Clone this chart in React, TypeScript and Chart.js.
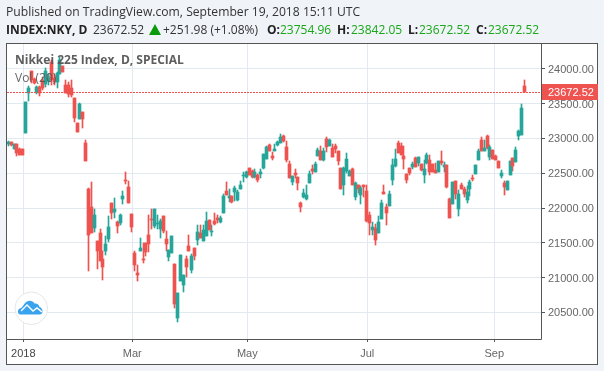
import React, { useEffect, useRef } from "react";
import { Chart, registerables } from "chart.js";

Chart.register(...registerables);

const opens = [22914,22942,22851,22918,22847,22847,23081,23646,23962,23857,23665,23737,23838,23780,23830,24091,23871,23814,23929,24043,23766,23766,23718,23584,23220,23278,23373,22928,
22273,22014,21717,21526,21641,21267,21382,21554,22071,21947,21799,21784,22129,22402,22301,21914,21353,21061,21382,21267,21497,21612,21842,21741,21770,21698,21885,21554,21296,21353,21195,20420,20951,20894,21267,21454,21109,21425,21540,21641,21526,21598,21827,21660,
21813,21851,21798,21927,22243,22148,22171,22229,22114,22272,22464,22444,22574,22531,22444,22473,22492,22574,22703,22904,22746,22818,22904,22933,23033,22875,22631,22373,22502,22444,22066,22157,22129,22358,22559,22516,22746,22818,22689,22990,22890,22861,22890,22818,22574,22330,22531,22459,22559,22157,22330,22186,22330,22243,
21899,21688,21712,21640,21841,22229,22014,22028,22401,22602,22933,22890,22746,22487,22574,22588,22717,22645,22631,22473,22645,22688,22631,22545,22516,22674,22593,22617,22128,22057,22387,21985,22329,22272,22114,22272,22430,22487,22688,22976,22818,23033,22732,22832,22746,22674,22459,22358,22258,22473,22717,22660,23033,23048,23754.96];
const highs = [22962,22950,22918,22925,22860,22847,23526,23751,23962,23870,23751,23745,23885,24005,23930,24125,23925,23960,24170,24043,23838,23814,23838,23584,23220,23510,23373,22976,
22287,22373,21985,21526,21698,21382,21598,21885,22071,22143,21813,21913,22244,22517,22387,21914,21382,21181,21569,21497,21497,21899,21985,21985,21899,21842,21885,21669,21396,21598,21195,20779,21325,21037,21310,21612,21339,21425,21756,21756,21756,21942,21827,21756,
21928,21899,21885,22200,22373,22272,22171,22315,22258,22387,22516,22531,22574,22545,22559,22488,22559,22775,22890,22918,22803,22918,22961,23062,23048,22961,22674,22459,22559,22444,22085,22272,22330,22531,22617,22660,22861,22890,22861,23019,22990,22918,22918,22818,22574,22588,22789,22545,22574,22373,22330,22315,22330,22330,
21942,21793,21769,21884,22114,22329,22057,22243,22703,22846,22961,22933,22890,22487,22574,22660,22732,22732,22631,22688,22789,22760,22631,22645,22674,22818,22660,22617,22143,22373,22387,22258,22358,22301,22315,22401,22473,22617,22846,23019,22976,23048,22904,22832,22760,22674,22545,22387,22387,22674,22717,22875,23119,23493,23842.05];
const lows = [22895,22890,22851,22746,22765,22765,23081,23541,23790,23780,23637,23613,23700,23732,23770,23770,23770,23718,23925,23948,23656,23598,23598,23239,23096,23278,23143,22679,
21100,21645,21660,21128,21238,20970,21325,21511,21842,21861,21641,21756,22062,22344,22076,21655,21095,20956,21382,21210,21310,21368,21698,21712,21698,21569,21641,21382,21238,21353,20563,20362,20951,20793,21009,21382,21066,21253,21468,21569,21526,21598,21684,21598,
21756,21784,21784,21927,22186,22085,22071,22100,22100,22272,22373,22430,22473,22430,22430,22373,22430,22559,22703,22818,22689,22818,22890,22933,22947,22660,22430,22330,22430,22258,21942,22143,22114,22358,22487,22516,22746,22689,22674,22803,22890,22732,22789,22617,22272,22186,22502,22459,22330,22114,22215,22057,22157,21798,
21611,21611,21468,21640,21841,22200,21755,22028,22329,22588,22789,22760,22559,22358,22470,22559,22588,22602,22530,22358,22631,22473,22516,22502,22516,22617,22516,22286,21856,22057,22128,21884,22272,22157,22071,22172,22387,22487,22688,22818,22818,22846,22688,22703,22688,22574,22430,22186,22258,22473,22530,22660,22976,23048,23672.52];
const closes = [22942,22899,22918,22794,22765,22765,23526,23727,23838,23790,23732,23656,23718,23962,23880,23838,23814,23940,24125,23948,23656,23632,23622,23297,23096,23498,23282,22679,
21617,21645,21899,21382,21238,21157,21483,21727,21933,21985,21746,21899,22172,22387,22076,21732,21181,21037,21425,21253,21373,21478,21827,21985,21784,21813,21665,21483,21396,21598,20621,20779,21325,21037,21152,21382,21310,21310,21655,21569,21684,21813,21684,21669,
21769,21832,21856,22171,22186,22171,22085,22286,22229,22330,22473,22516,22473,22449,22516,22401,22516,22775,22875,22818,22722,22847,22947,23019,22961,22689,22430,22459,22478,22358,22014,22215,22186,22487,22531,22631,22832,22689,22818,22875,22976,22732,22847,22674,22272,22574,22703,22531,22330,22358,22272,22286,22296,21813,
21784,21726,21540,21798,22071,22200,21927,22200,22617,22703,22789,22760,22703,22401,22502,22631,22588,22732,22545,22559,22760,22516,22516,22502,22674,22645,22617,22301,21856,22373,22200,22200,22272,22200,22229,22373,22420,22617,22818,22818,22861,22861,22875,22703,22688,22574,22502,22301,22387,22674,22602,22832,23105,23435,23672.52];

const yTickValues = [20500,21000,21500,22000,22500,23000,23500,24000];
const xTickLabels = ["2018","Mar","May","Jul","Sep"];
const xTickSessions = [5.22,43.24,83.35,125.2,169.5];
const lastPrice = 23672.52;

const UP = "#26a69a";
const DOWN = "#ef5350";
const LINE = "#555";
const AXIS_TEXT = "#666";

const sessions = closes.map((_, i) => i);
const wickData = sessions.map((i) => ({ x: i, y: [lows[i], highs[i]] }));
const bodyData = sessions.map((i) => ({ x: i, y: [Math.min(opens[i], closes[i]), Math.max(opens[i], closes[i])] }));
const candleColors = sessions.map((i) => (closes[i] >= opens[i] ? UP : DOWN));

const snapBars = {
  id: "snapBars",
  afterDatasetsUpdate(chart: any) {
    chart.data.datasets.forEach((_: any, d: number) => {
      chart.getDatasetMeta(d).data.forEach((el: any) => {
        el.x = Math.floor(el.x) + 0.5;
        const top = Math.round(Math.min(el.y, el.base));
        let bottom = Math.round(Math.max(el.y, el.base));
        if (bottom <= top) bottom = top + 1;
        el.y = top;
        el.base = bottom;
        el.height = bottom - top;
      });
    });
  },
};

const frame = {
  id: "frame",
  beforeDraw(chart: any) {
    const c = chart.ctx;
    c.save();
    c.fillStyle = "#fff";
    c.fillRect(6, 43, 592, 322);
    c.restore();
  },
  afterDatasetsDraw(chart: any) {
    const c = chart.ctx;
    const a = chart.chartArea;
    const y = Math.round(chart.scales.y.getPixelForValue(lastPrice)) + 0.5;
    c.save();
    c.strokeStyle = DOWN;
    c.lineWidth = 1;
    c.setLineDash([2, 1]);
    c.beginPath();
    c.moveTo(a.left, y);
    c.lineTo(a.right, y);
    c.stroke();
    c.restore();
  },
  afterDraw(chart: any) {
    const c = chart.ctx;
    const a = chart.chartArea;
    const y = chart.scales.y.getPixelForValue(lastPrice);
    c.save();
    c.strokeStyle = LINE;
    c.lineWidth = 1;
    c.strokeRect(6.5, 43.5, 591, 321);
    c.beginPath();
    c.moveTo(a.right + 0.5, 43.5);
    c.lineTo(a.right + 0.5, a.bottom + 0.5);
    c.lineTo(6.5, a.bottom + 0.5);
    c.stroke();
    const top = Math.round(y) - 8;
    c.fillStyle = DOWN;
    c.fillRect(a.right + 1, top, 56, 16);
    c.fillStyle = "#fff";
    c.font = "11px 'Liberation Sans'";
    c.textBaseline = "middle";
    c.textAlign = "left";
    c.fillText(lastPrice.toFixed(2), 548, top + 9);
    c.restore();
  },
};

const rowFont = "'Open Sans', sans-serif";
const green = "#18a818";
const row2: [string, number, boolean, string][] = [
  ["INDEX:NKY, D", 6, true, "#222"],
  ["23672.52", 93, false, "#333"],
  ["+251.98 (+1.08%)", 163, false, "#333"],
  ["O:", 267, true, "#222"],
  ["23754.96", 280, false, green],
  ["H:", 337, true, "#222"],
  ["23842.05", 351, false, green],
  ["L:", 408, true, "#222"],
  ["23672.52", 419, false, green],
  ["C:", 476, true, "#222"],
  ["23672.52", 488, false, green],
];

const abs = (left: number, top: number, extra: any = {}) => ({
  position: "absolute" as const,
  left,
  top,
  whiteSpace: "nowrap" as const,
  fontFamily: rowFont,
  lineHeight: "16px",
  ...extra,
});

export default function App() {
  const ref = useRef<HTMLCanvasElement>(null);
  useEffect(() => {
    const chart = new Chart(ref.current!, {
      type: "bar",
      data: {
        datasets: [
          { data: wickData, backgroundColor: candleColors, barThickness: 1, order: 2 },
          { data: bodyData, backgroundColor: candleColors, barThickness: 3, order: 1 },
        ] as any,
      },
      plugins: [snapBars, frame],
      options: {
        responsive: false,
        animation: false,
        events: [],
        layout: { padding: { left: 7, top: 44, right: 7, bottom: 8 } },
        datasets: { bar: { grouped: false, borderWidth: 0 } } as any,
        plugins: { legend: { display: false }, tooltip: { enabled: false }, title: { display: false } },
        scales: {
          x: {
            type: "linear",
            offset: false,
            min: -0.46,
            max: 185.8,
            grid: { offset: false, color: "#e1e9f1", tickColor: LINE, tickLength: 3 },
            border: { display: false },
            afterBuildTicks(s: any) {
              s.ticks = xTickSessions.map((value) => ({ value }));
            },
            afterFit(s: any) {
              s.height = 24;
            },
            ticks: {
              autoSkip: false,
              maxRotation: 0,
              padding: 5,
              color: (ctx: any) => (ctx.index === 0 ? "#444" : AXIS_TEXT),
              font: { family: "'Liberation Sans'", size: 11 },
              callback: (_: any, i: number) => xTickLabels[i],
            },
          },
          y: {
            type: "linear",
            position: "right",
            min: 20119,
            max: 24355,
            grid: { color: "#e1e9f1", tickColor: LINE, tickLength: 4 },
            border: { display: false },
            afterBuildTicks(s: any) {
              s.ticks = yTickValues.map((value) => ({ value }));
            },
            afterFit(s: any) {
              s.width = 56;
            },
            ticks: {
              padding: 3,
              labelOffset: 1,
              color: AXIS_TEXT,
              font: { family: "'Liberation Sans'", size: 11 },
              callback: (v: any) => Number(v).toFixed(2),
            },
          },
        },
      } as any,
    });
    return () => chart.destroy();
  }, []);

  return (
    <div style={{ position: "absolute", left: 0, top: 0, width: 604, height: 371, background: "#f0f3f8", overflow: "hidden" }}>
      <canvas ref={ref} width={604} height={371} style={{ position: "absolute", left: 0, top: 0, display: "block" }} />
      <div style={abs(6, 4, { fontSize: 12.15, color: "#333" })}>Published on TradingView.com, September 19, 2018 15:11 UTC</div>
      {row2.map(([t, x, b, col], i) => (
        <span key={i} style={abs(x, 22, { fontSize: 12, fontWeight: b ? 700 : 400, color: col })}>{t}</span>
      ))}
      <svg width={12} height={11} style={{ position: "absolute", left: 149, top: 24 }}>
        <polygon points="0,11 12,11 6,0" fill="#0a9a0a" />
      </svg>
      <div style={abs(15, 52, { fontSize: 12, fontWeight: 700, color: "rgba(85,85,85,0.95)" })}>Nikkei 225 Index, D, SPECIAL</div>
      <div style={abs(15, 70, { fontSize: 12, color: "rgba(85,85,85,0.9)" })}>Vol (20)</div>
      <svg width={36} height={36} style={{ position: "absolute", left: 13, top: 290 }}>
        <circle cx={18.3} cy={18.3} r={16.3} fill="#fff" stroke="#e6e6e6" strokeWidth={1} />
        <path d="M7 24.5 C4 24 4 18.5 8 18 C10 17 11 13 14 11.5 C17 10 20 11 21.5 13.5 C24 13 26 14.5 26.5 17 C30 18 31 24 27 24.5 Z" fill="#3aa3ee" />
        <polyline points="8,21 14,15 20,21 24,18 29,22" fill="none" stroke="#fff" strokeWidth={1.4} />
      </svg>
    </div>
  );
}
